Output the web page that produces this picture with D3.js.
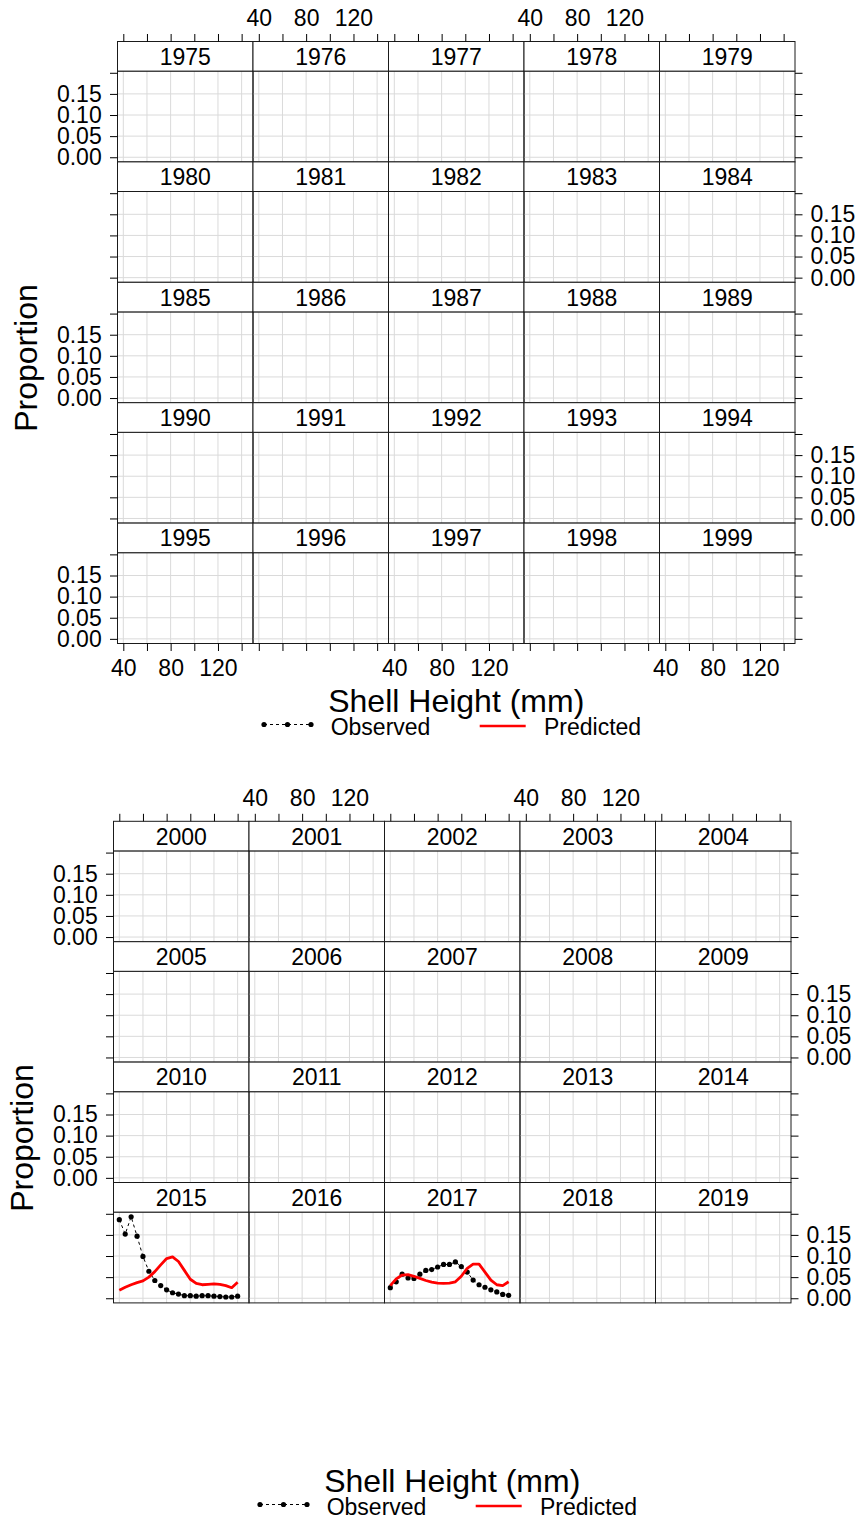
<!DOCTYPE html>
<html>
<head>
<meta charset="utf-8">
<script src="https://cdn.jsdelivr.net/npm/d3@7"></script>
<style>
  body { margin: 0; background: #fff; }
  svg { display: block; }
  text { font-family: "Liberation Sans", Arial, Helvetica, sans-serif; fill: #000; }
</style>
</head>
<body>
<svg id="chart" width="862" height="1521"></svg>
<script>
// Survey years, one panel each
const years = [
  1975, 1976, 1977, 1978, 1979, 1980, 1981, 1982, 1983, 1984,
  1985, 1986, 1987, 1988, 1989, 1990, 1991, 1992, 1993, 1994,
  1995, 1996, 1997, 1998, 1999, 2000, 2001, 2002, 2003, 2004,
  2005, 2006, 2007, 2008, 2009, 2010, 2011, 2012, 2013, 2014,
  2015, 2016, 2017, 2018, 2019
];

// Shell height bins (mm)
const sizeBins = [40, 45, 50, 55, 60, 65, 70, 75, 80, 85, 90, 95, 100, 105, 110, 115, 120, 125, 130, 135, 140];

// Proportion at size, observed and model-predicted
const observed2015 = [0.186, 0.152, 0.193, 0.147, 0.099, 0.064, 0.042, 0.030, 0.020, 0.013, 0.010,
                      0.006, 0.006, 0.005, 0.006, 0.006, 0.005, 0.004, 0.003, 0.003, 0.005];
const predicted2015 = [0.019, 0.026, 0.032, 0.037, 0.041, 0.050, 0.063, 0.079, 0.094, 0.098, 0.087,
                       0.066, 0.045, 0.035, 0.032, 0.033, 0.034, 0.033, 0.030, 0.025, 0.038];
const observed2017 = [0.025, 0.039, 0.057, 0.048, 0.047, 0.057, 0.066, 0.068, 0.074, 0.080, 0.080,
                      0.086, 0.075, 0.062, 0.043, 0.032, 0.026, 0.020, 0.015, 0.009, 0.007];
const predicted2017 = [0.030, 0.046, 0.055, 0.056, 0.052, 0.047, 0.042, 0.038, 0.036, 0.035, 0.036,
                       0.039, 0.052, 0.071, 0.081, 0.081, 0.062, 0.043, 0.032, 0.030, 0.039];

// Axis ticks and labels
const xTicks = [40, 60, 80, 100, 120, 140];
const xTickLabels = [40, 80, 120];
const yTicks = [0, 0.05, 0.10, 0.15, 0.20];
const yTickLabels = [0, 0.05, 0.10, 0.15];
const yGrid = [0, 0.05, 0.10, 0.15];

const xTitle = "Shell Height (mm)";
const yTitle = "Proportion";
const legendLabels = ["Observed", "Predicted"];

// Per-year series lookup
const seriesByYear = new Map([
  [2015, { obs: observed2015, pred: predicted2015 }],
  [2017, { obs: observed2017, pred: predicted2017 }]
]);

// ---- layout ----
const PW = 135.5;   // panel width
const SH = 29.6;    // strip height
const PH = 90.8;    // panel height
const RH = SH + PH; // row height
const NCOL = 5;
const TICK = 7.5;
const FS = 23;      // tick / strip / legend font size
const TFS = 32;     // axis title font size

const pages = [
  { years: years.slice(0, 25), x0: 117.5, y0: 41.5, rows: 5, bottomAxis: true, dy: 0 },
  { years: years.slice(25),    x0: 113.5, y0: 821.3, rows: 4, bottomAxis: false, dy: 780 }
];

const svg = d3.select("#chart");
const fmtY = d3.format(".2f");

const x = d3.scaleLinear().domain([35.1, 149.6]).range([0, PW]);
const y = d3.scaleLinear().domain([-0.011, 0.204]).range([PH, 0]);

function styleAxis(g) {
  g.select(".domain").remove();
  g.selectAll(".tick line").attr("stroke", "#000").attr("stroke-width", 1);
  g.selectAll(".tick text")
    .attr("font-size", FS)
    .attr("font-family", "'Liberation Sans', Arial, sans-serif")
    .attr("fill", "#000");
}

pages.forEach(page => {
  const pg = svg.append("g");
  const ncolsUsed = NCOL;

  page.years.forEach((yr, i) => {
    const c = i % NCOL;
    const r = Math.floor(i / NCOL);
    const left = page.x0 + c * PW;
    const stripTop = page.y0 + r * RH;
    const panelTop = stripTop + SH;

    const cell = pg.append("g").attr("transform", `translate(${left},${panelTop})`);

    // background grid
    cell.append("g").selectAll("line.v").data(xTicks).join("line")
      .attr("x1", d => x(d)).attr("x2", d => x(d))
      .attr("y1", 0).attr("y2", PH)
      .attr("stroke", "#dadada").attr("stroke-width", 1);
    cell.append("g").selectAll("line.h").data(yGrid).join("line")
      .attr("x1", 0).attr("x2", PW)
      .attr("y1", d => y(d)).attr("y2", d => y(d))
      .attr("stroke", "#dadada").attr("stroke-width", 1);

    // data
    const s = seriesByYear.get(yr);
    if (s) {
      const obsPts = sizeBins.map((b, k) => [b, s.obs[k]]);
      const predPts = sizeBins.map((b, k) => [b, s.pred[k]]);
      const line = d3.line().x(d => x(d[0])).y(d => y(d[1]));
      cell.append("path").datum(obsPts).attr("d", line)
        .attr("fill", "none").attr("stroke", "#000").attr("stroke-width", 1)
        .attr("stroke-dasharray", "3,3");
      cell.append("g").selectAll("circle").data(obsPts).join("circle")
        .attr("cx", d => x(d[0])).attr("cy", d => y(d[1])).attr("r", 2.6)
        .attr("fill", "#000");
      cell.append("path").datum(predPts).attr("d", line)
        .attr("fill", "none").attr("stroke", "#ff0000").attr("stroke-width", 2.8)
        .attr("stroke-linejoin", "round");
    }

    // panel border
    cell.append("rect").attr("x", 0).attr("y", 0).attr("width", PW).attr("height", PH)
      .attr("fill", "none").attr("stroke", "#1a1a1a").attr("stroke-width", 1);

    // strip
    const strip = pg.append("g").attr("transform", `translate(${left},${stripTop})`);
    strip.append("rect").attr("width", PW).attr("height", SH)
      .attr("fill", "#fff").attr("stroke", "#1a1a1a").attr("stroke-width", 1);
    strip.append("text").attr("x", PW / 2).attr("y", 23.3)
      .attr("text-anchor", "middle").attr("font-size", FS).text(yr);

    // left axis (labels on alternating rows)
    const leftAxis = d3.axisLeft(y).tickValues(yTicks).tickSize(TICK).tickPadding(8.3)
      .tickFormat(d => (r % 2 === 0 && yTickLabels.includes(d)) ? fmtY(d) : "");
    if (c === 0) {
      pg.append("g").attr("transform", `translate(${left},${panelTop})`).call(leftAxis).call(styleAxis);
    }
    // right axis
    if (c === NCOL - 1) {
      const rightAxis = d3.axisRight(y).tickValues(yTicks).tickSize(TICK).tickPadding(8)
        .tickFormat(d => (r % 2 === 1 && yTickLabels.includes(d)) ? fmtY(d) : "");
      pg.append("g").attr("transform", `translate(${left + PW},${panelTop})`).call(rightAxis).call(styleAxis);
    }
    // top axis
    if (r === 0) {
      const topAxis = d3.axisTop(x).tickValues(xTicks).tickSize(TICK).tickPadding(8)
        .tickFormat(d => (c % 2 === 1 && xTickLabels.includes(d)) ? d : "");
      pg.append("g").attr("transform", `translate(${left},${stripTop})`).call(topAxis).call(styleAxis);
    }
    // bottom axis
    if (page.bottomAxis && r === page.rows - 1) {
      const bottomAxis = d3.axisBottom(x).tickValues(xTicks).tickSize(TICK).tickPadding(9)
        .tickFormat(d => (c % 2 === 0 && xTickLabels.includes(d)) ? d : "");
      pg.append("g").attr("transform", `translate(${left},${panelTop + PH})`).call(bottomAxis).call(styleAxis);
    }
  });

  // axis titles
  const shift = page.x0 - 117.5;
  pg.append("text")
    .attr("x", page.x0 + NCOL * PW / 2).attr("y", 712 + page.dy)
    .attr("text-anchor", "middle").attr("font-size", TFS).text(xTitle);
  pg.append("text")
    .attr("transform", `translate(${37 + shift},${358 + page.dy}) rotate(-90)`)
    .attr("text-anchor", "middle").attr("font-size", TFS).text(yTitle);

  // legend
  const lg = pg.append("g").attr("transform", `translate(${shift},${page.dy})`);
  const dotXs = [264, 287.5, 311];
  lg.append("line").attr("x1", dotXs[0]).attr("x2", dotXs[2]).attr("y1", 724.5).attr("y2", 724.5)
    .attr("stroke", "#000").attr("stroke-width", 1).attr("stroke-dasharray", "3,3");
  lg.selectAll("circle").data(dotXs).join("circle")
    .attr("cx", d => d).attr("cy", 724.5).attr("r", 2.6).attr("fill", "#000");
  lg.append("text").attr("x", 330.7).attr("y", 735).attr("font-size", FS).text(legendLabels[0]);
  lg.append("line").attr("x1", 479.7).attr("x2", 525.7).attr("y1", 726).attr("y2", 726)
    .attr("stroke", "#ff0000").attr("stroke-width", 2.5);
  lg.append("text").attr("x", 544).attr("y", 735).attr("font-size", FS).text(legendLabels[1]);
});
</script>
</body>
</html>
